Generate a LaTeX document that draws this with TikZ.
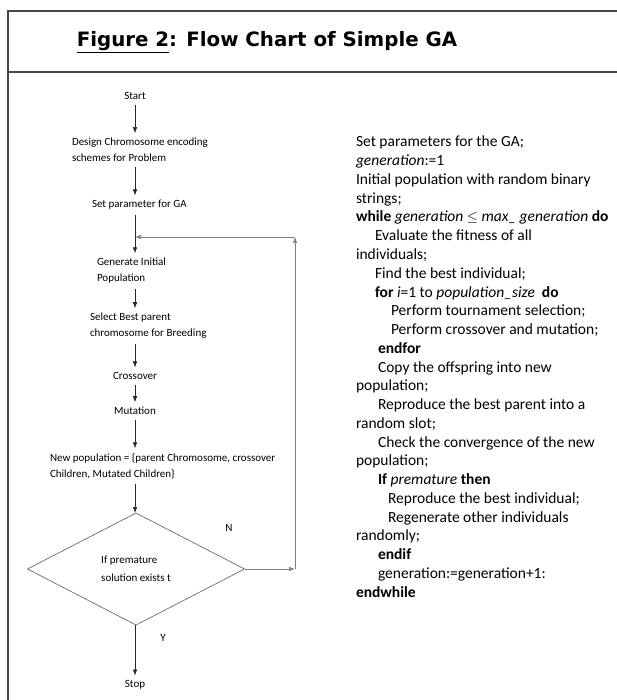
\documentclass[tikz,border=0pt]{standalone}
\usepackage{fontspec}
\setmainfont{Carlito}
\newfontfamily\titlefont{DejaVu Sans}
\usetikzlibrary{arrows.meta}
\usetikzlibrary{positioning}
\usetikzlibrary{shapes.geometric}
\tikzstyle{base}=[x=1pt, y=-1pt, inner sep=0pt, outer sep=0pt]
\tikzstyle{frame}=[draw=black!72, line width=1.4pt]
\tikzstyle{flow}=[font=\fontsize{11}{16}\selectfont, align=left, inner sep=1pt, outer sep=4pt]
\tikzstyle{decision}=[diamond, aspect=2, draw=black!65, line width=0.6pt, minimum width=217pt, minimum height=112pt, font=\fontsize{11}{18}\selectfont, align=left]
\tikzstyle{arr}=[draw=black!85, line width=0.6pt, -{Latex[length=6pt,width=4.5pt]}]
\tikzstyle{back}=[arr, draw=black!50]
\tikzstyle{code}=[font=\fontsize{15.5}{18}\selectfont, anchor=base west]

\begin{document}
\begin{tikzpicture}[base]
    \useasboundingbox (0,0) rectangle (617,700);
    \clip (0,0) rectangle (617,700);
    % frame and title
    \draw [frame] (8,11) rectangle (640,720);
    \draw [frame] (8,72) -- (640,72);
    \node (title) at (267,42) {\titlefont\bfseries\fontsize{19.8}{24}\selectfont\underline{Figure 2}: Flow Chart of Simple GA};
    % flow chart
    \node [flow] (start) at (135,96) {Start};
    \node [flow, anchor=west] (design) at (67,150) {Design Chromosome encoding\\schemes for Problem};
    \node [flow, anchor=west] (param) at (87,205) {Set parameter for GA};
    \node [flow, anchor=west] (init) at (92,271) {Generate Initial\\Population};
    \node [flow, anchor=west] (select) at (85,326) {Select Best parent\\chromosome for Breeding};
    \node [flow] (cross) at (135,376) {Crossover};
    \node [flow] (mut) at (135,411) {Mutation};
    \node [flow, anchor=west] (newpop) at (45,466) {New population = \{parent Chromosome, crossover\\Children, Mutated Children\}};
    \node [decision] (decide) at (136,569) {If premature\\solution exists t};
    \node [flow] (stop) at (135,685) {Stop};
    \node [flow] (no) at (229,528) {N};
    \node [flow] (yes) at (163,638) {Y};
    \coordinate (loop) at (295,237);
    \draw [arr] (start) -- (design.north -| start);
    \draw [arr] (design.south -| start) -- (param.north -| start);
    \draw [arr] (param.south -| start) -- (init.north -| start);
    \draw [arr] (init.south -| start) -- (select.north -| start);
    \draw [arr] (select.south -| start) -- (cross);
    \draw [arr] (cross) -- (mut);
    \draw [arr] (mut) -- (newpop.north -| start);
    \draw [arr] (newpop.south -| start) -- (decide.north -| start);
    \draw [arr] (decide.south -| start) -- (stop);
    \draw [back] (decide.east) -- (decide.east -| loop);
    \draw [back] (decide.east -| loop) -- (loop);
    \draw [back] (loop) -- (loop -| start);
    % pseudo code
    \foreach \dx/\txt [count=\i] in {
        0/{Set parameters for the GA;},
        0/{\textit{generation}:=1},
        0/{Initial population with random binary},
        0/{strings;},
        0/{\textbf{while} \textit{generation} $\le$ \textit{max\_ generation} \textbf{do}},
        19/{Evaluate the fitness of all},
        0/{individuals;},
        19/{Find the best individual;},
        19/{\textbf{for} \textit{i}=1 to \textit{population\_size}\ \ \textbf{do}},
        35/{Perform tournament selection;},
        35/{Perform crossover and mutation;},
        22/{\textbf{endfor}},
        22/{Copy the offspring into new},
        0/{population;},
        22/{Reproduce the best parent into a},
        0/{random slot;},
        22/{Check the convergence of the new},
        0/{population;},
        22/{\textbf{If} \textit{premature} \textbf{then}},
        32/{Reproduce the best individual;},
        32/{Regenerate other individuals},
        0/{randomly;},
        22/{\textbf{endif}},
        22/{generation:=generation+1:},
        0/{\textbf{endwhile}}}
        \node [code] (code\i) at ({356+\dx},{128.25+18.75*\i}) {\txt};
\end{tikzpicture}
\end{document}
